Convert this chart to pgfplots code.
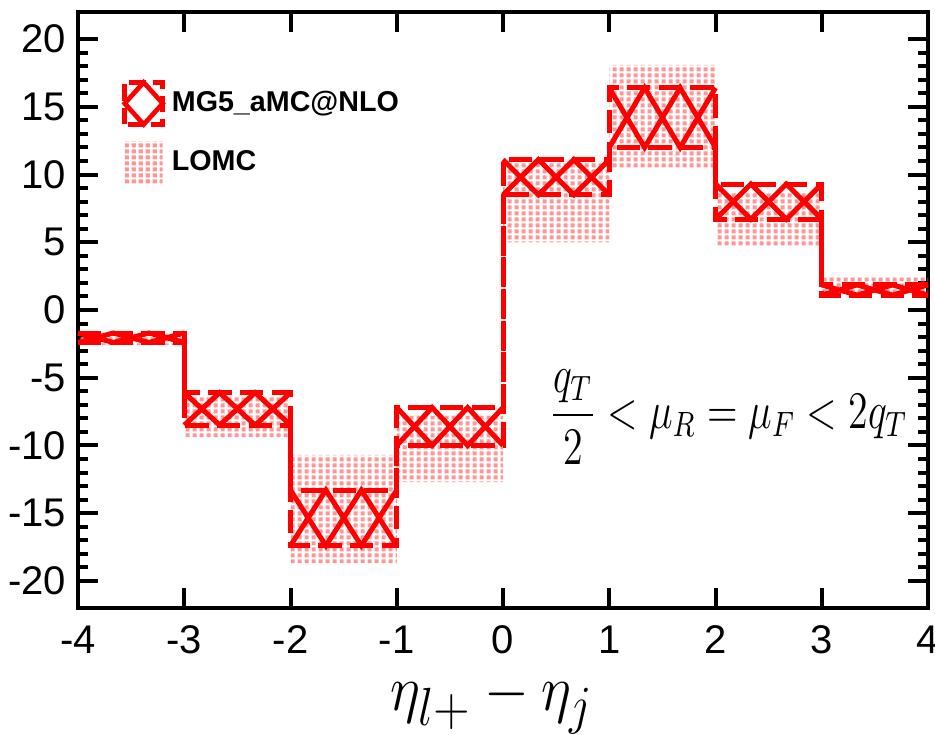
\documentclass[border=0pt]{standalone}
\usepackage{amsmath}
\usepackage{graphicx}
\usepackage{fontspec}
\setmainfont{Liberation Sans}
\usepackage{pgfplots}
\usepackage{pgfplotstable}
\pgfplotsset{compat=1.18}
\usepgfplotslibrary{fillbetween}
\usetikzlibrary{patterns.meta}

\definecolor{mgred}{RGB}{255,0,0}
\definecolor{lomc}{RGB}{255,150,150}

\pgfdeclarepattern{
  name=lomcgrid, type=uncolored,
  bottom left={\pgfpoint{0pt}{0pt}},
  top right={\pgfpoint{2.2pt}{1.9pt}},
  tile size={\pgfpoint{2.2pt}{1.9pt}},
  code={\pgfpathrectangle{\pgfpoint{0.2pt}{0.2pt}}{\pgfpoint{1.35pt}{1.3pt}}\pgfusepath{fill}}
}

\pgfplotstableread{
x mgT mgB loT loB
-4 -1.7 -2.4 -1.8 -2.6
-3 -6.1 -8.5 -6.4 -9.4
-2 -13.3 -17.4 -10.7 -18.7
-1 -7.2 -10.0 -7.8 -12.7
0 11.1 8.5 11.0 5.0
1 16.4 12.0 18.1 10.4
2 9.3 6.7 8.7 4.7
3 1.85 1.1 2.4 1.3
4 1.85 1.1 2.4 1.3
}\bins

\begin{document}
\begin{tikzpicture}
\begin{axis}[
  width=255pt, height=178.8pt, scale only axis,
  xmin=-4, xmax=4, ymin=-22, ymax=22,
  xtick={-4,-3,...,4}, ytick={-20,-15,...,20},
  minor y tick num=4,
  tick align=inside,
  major tick length=6pt, minor tick length=3pt,
  every tick/.style={black, line width=1.2pt},
  axis line style={line width=1.2pt},
  /pgf/number format/assume math mode=true,
  tick label style={font=\fontsize{12}{14}\selectfont},
  xticklabel style={inner sep=0pt, yshift=-5.2pt},
  xlabel={\scalebox{1}[1.12]{$\eta_{l+}-\eta_j$}},
  xlabel style={font=\fontsize{19}{23}\selectfont, inner sep=0pt, at={(rel axis cs:0.5,0)}, anchor=base, yshift=-30.6pt, xshift=-3.3pt},
  unbounded coords=jump,
  clip=false,
  legend style={draw=none, fill=none, inner sep=0pt, outer sep=0pt,
    at={(rel axis cs:0.052,0.886)}, anchor=north west,
    font=\fontsize{8.6}{10}\selectfont\bfseries, row sep=4.5pt,
    cells={anchor=west}},
  legend cell align=left,
]
\coordinate (bl) at (rel axis cs:0,0);
\coordinate (tr) at (rel axis cs:1,1);

% LOMC band
\addplot[const plot, draw=none, name path=loT, forget plot] table[x=x,y=loT]{\bins};
\addplot[const plot, draw=none, name path=loB, forget plot] table[x=x,y=loB]{\bins};
\addplot[pattern=lomcgrid, pattern color=lomc, draw=none, forget plot] fill between[of=loT and loB];

% MG5 band outline
\addplot[const plot, mgred, line width=1.5pt, dash pattern=on 7pt off 2.5pt, forget plot] table[x=x,y=mgT]{\bins};
\addplot[const plot, mgred, line width=1.5pt, dash pattern=on 7pt off 2.5pt, forget plot] table[x=x,y=mgB]{\bins};

% MG5 hatching (zigzags)
\addplot[mgred, line width=1.5pt, forget plot] coordinates {
(-4,-1.7) (-3.667,-2.4) (-3.333,-1.7) (-3,-2.4) (-3,nan)
(-4,-2.4) (-3.667,-1.7) (-3.333,-2.4) (-3,-1.7) (-3,nan)
(-3,-6.1) (-2.667,-8.5) (-2.333,-6.1) (-2,-8.5) (-2,nan)
(-3,-8.5) (-2.667,-6.1) (-2.333,-8.5) (-2,-6.1) (-2,nan)
(-2,-13.3) (-1.667,-17.4) (-1.333,-13.3) (-1,-17.4) (-1,nan)
(-2,-17.4) (-1.667,-13.3) (-1.333,-17.4) (-1,-13.3) (-1,nan)
(-1,-7.2) (-0.667,-10) (-0.333,-7.2) (0,-10) (0,nan)
(-1,-10) (-0.667,-7.2) (-0.333,-10) (0,-7.2) (0,nan)
(0,11.1) (0.333,8.5) (0.667,11.1) (1,8.5) (1,nan)
(0,8.5) (0.333,11.1) (0.667,8.5) (1,11.1) (1,nan)
(1,16.4) (1.333,12) (1.667,16.4) (2,12) (2,nan)
(1,12) (1.333,16.4) (1.667,12) (2,16.4) (2,nan)
(2,9.3) (2.333,6.7) (2.667,9.3) (3,6.7) (3,nan)
(2,6.7) (2.333,9.3) (2.667,6.7) (3,9.3) (3,nan)
(3,1.85) (3.333,1.1) (3.667,1.85) (4,1.1) (4,nan)
(3,1.1) (3.333,1.85) (3.667,1.1) (4,1.85)
};

\addlegendimage{legend image code/.code={
  \draw[mgred, line width=1.5pt, dash pattern=on 5pt off 2pt] (0pt,-6.3pt) rectangle (11.4pt,6.3pt);
  \draw[mgred, line width=1.4pt] (5.7pt,6.3pt) -- (11.4pt,0pt) -- (5.7pt,-6.3pt) -- (0pt,0pt) -- cycle;
}}
\addlegendentry{MG5\_aMC@NLO}
\addlegendimage{legend image code/.code={
  \path[draw=none, pattern=lomcgrid, pattern color=lomc] (0pt,-6.3pt) rectangle (11.4pt,6.3pt);
}}
\addlegendentry{LOMC}

\node[font=\fontsize{11.6}{14}\selectfont] at (axis cs:2.12,-7.9) {\scalebox{1}[1.32]{$\dfrac{q_T}{2}<\mu_R=\mu_F<2q_T$}};
\end{axis}
\pgfresetboundingbox
\path ([xshift=-23.4pt,yshift=-37.8pt]bl) rectangle ([xshift=2.1pt,yshift=3.6pt]tr);
\end{tikzpicture}
\end{document}
